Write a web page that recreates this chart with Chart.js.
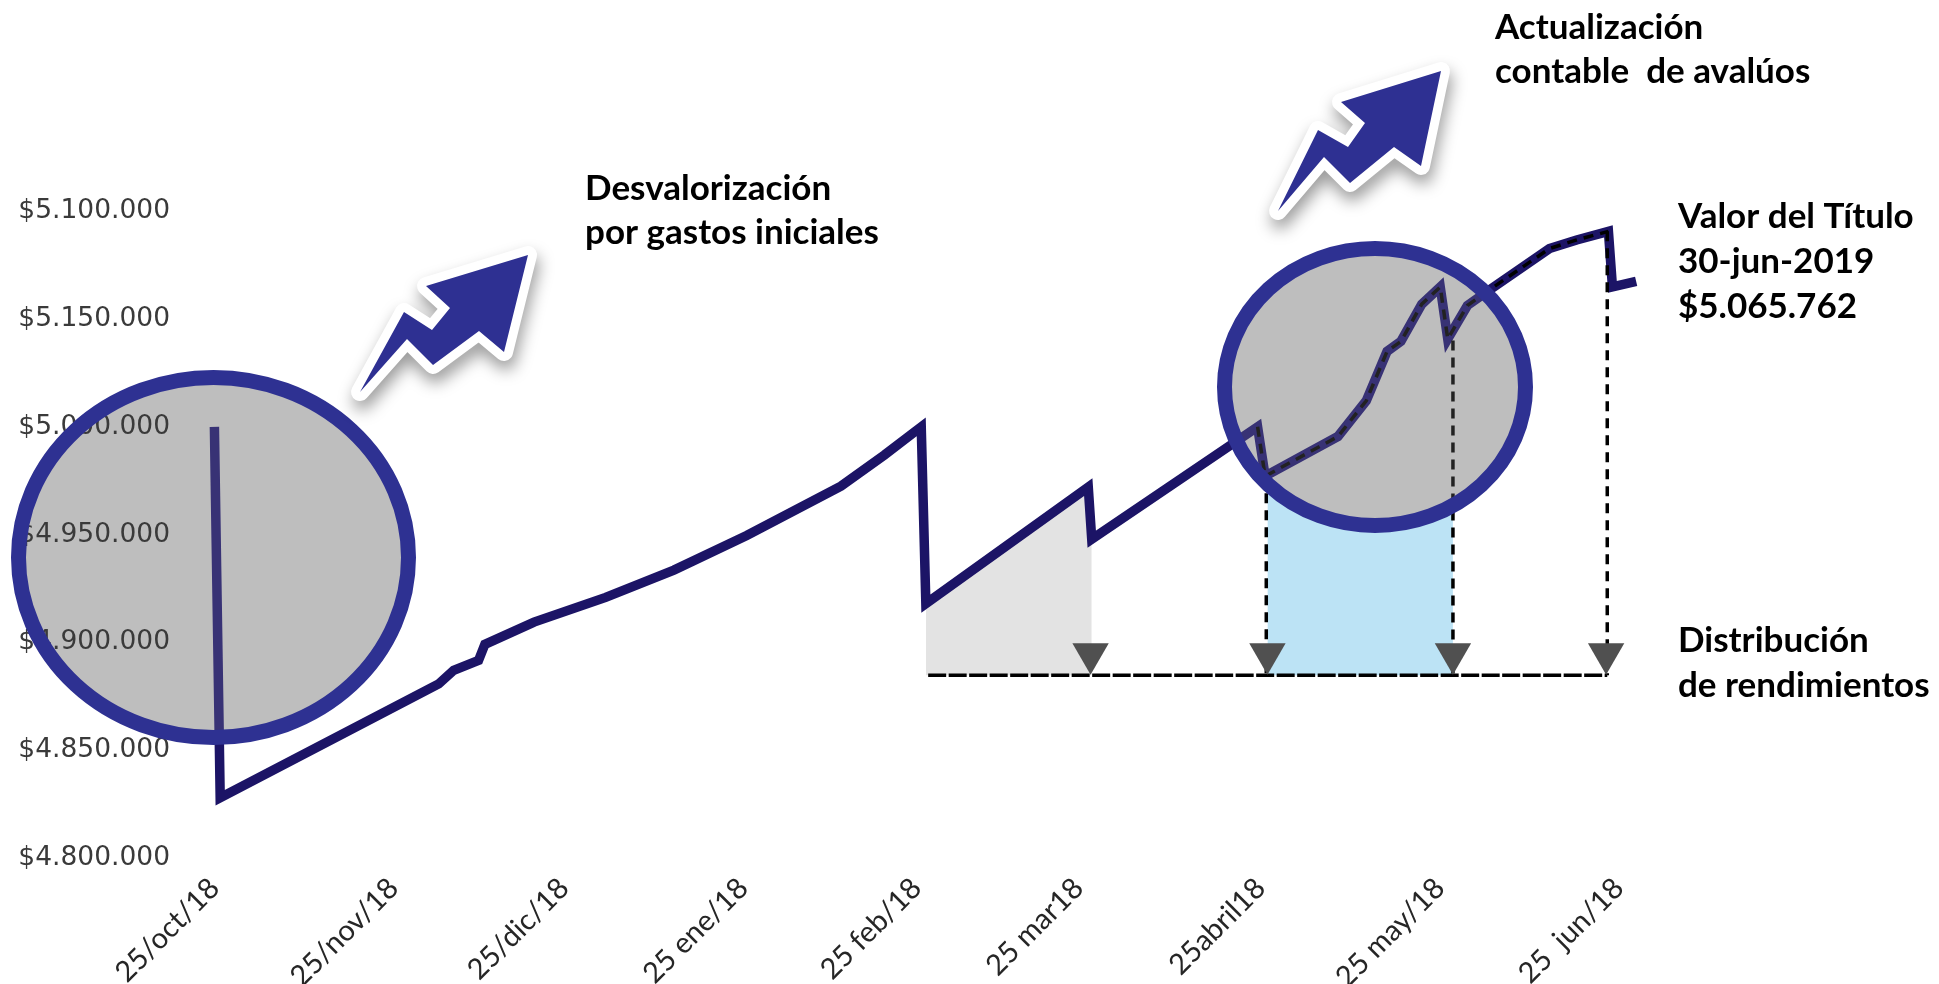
<!DOCTYPE html>
<html><head><meta charset="utf-8">
<style>html,body{margin:0;padding:0;background:#fff}canvas{display:block}</style>
<script src="https://cdn.jsdelivr.net/npm/chart.js@4"></script>
</head><body><canvas id="c" width="1939" height="984"></canvas>
<script>
const tickDays=[0,31,60.5,91.5,121.5,149.5,181,212,243];
const xLabels=['25/oct/18','25/nov/18','25/dic/18','25 ene/18','25 feb/18','25 mar18','25abril18','25 may/18','25  jun/18'];
const yTickValues=[4800000,4850000,4900000,4950000,5000000,5050000,5100000];
const yLabels=['$4.800.000','$4.850.000','$4.900.000','$4.950.000','$5.000.000','$5.150.000','$5.100.000'];
const days=[0,1,38.8,41.4,45.7,46.8,55.3,67.7,79.5,92.1,108.4,115.9,122.3,123.1,151.2,151.8,180.5,181.8,194.4,199.3,202.9,205.3,208.9,212.1,213.4,216.8,220.7,231,235.7,241.2,241.9,246];
const values=[5000000,4828000,4880760,4887070,4891660,4899110,4909440,4920900,4933530,4949600,4972500,4986900,5000000,4918000,4972000,4947900,5000000,4977100,4995500,5012100,5035000,5039650,5056900,5064900,5040800,5056300,5063700,5082700,5086700,5090700,5064900,5067500];
const baseValue=4884800;
const triangleDays=[151.6,182.2,214.3,240.8];
const triangleValue=4894700;
const payDays=[182,214.3,241];
const payTops=[4977100,5040000,5090700];
const annotations=[
 ['Desvalorización',585,189],['por gastos iniciales',585,233],
 ['Actualización',1495,28],['contable  de avalúos',1495,72],
 ['Valor del Título',1678,217],['30-jun-2019',1678,262],['$5.065.762',1678,307],
 ['Distribución',1678,641],['de rendimientos',1678,686]];
const arrowA=[[528,255],[426,286],[450,308],[432,330],[404,312],[360,392],[407,339],[433,365],[479,331],[504,352]];
const arrowB=[[1441,71],[1341,102],[1365,123],[1348,147],[1318,130],[1278,211],[1324,157],[1350,183],[1394,147],[1421,166]];
const ringA={cx:213.5,cy:557.5,rx:195,ry:180};
const ringB={cx:1375,cy:387,rx:150.5,ry:138.5};

const series=days.map((d,i)=>({x:d,y:values[i]}));
const slice=(a,b)=>series.filter(p=>p.x>=a&&p.x<=b);
const greyArea=[...slice(123.1,151.8),{x:151.8,y:baseValue}];
const blueArea=[{x:182.2,y:4977100},...slice(194,213.4),{x:214.3,y:5040000}];
const dashTrace=slice(180.5,241.2);
const vert=(d,t)=>({type:'line',data:[{x:d,y:t},{x:d,y:baseValue}],borderColor:'#000',borderWidth:3.5,borderDash:[10,7],pointRadius:0,order:2,fill:false});

function ell(ctx,r){ctx.beginPath();ctx.ellipse(r.cx,r.cy,r.rx,r.ry,0,0,Math.PI*2);}
const deco={id:'deco',
 afterDatasetDraw(chart,args){
  if(args.index!==1)return;
  const ctx=chart.ctx;ctx.save();ctx.fillStyle='#bfbfbf';
  ell(ctx,ringA);ctx.fill();ell(ctx,ringB);ctx.fill();ctx.restore();
 },
 afterDatasetsDraw(chart){
  const ctx=chart.ctx;ctx.save();ctx.fillStyle='rgba(191,191,191,0.18)';
  ell(ctx,ringA);ctx.fill();ell(ctx,ringB);ctx.fill();ctx.restore();
 },
 afterDraw(chart){
  const ctx=chart.ctx;ctx.save();
  ctx.strokeStyle='#2e3192';ctx.lineWidth=15;
  ell(ctx,ringA);ctx.stroke();ell(ctx,ringB);ctx.stroke();
  [arrowA,arrowB].forEach(p=>{
   ctx.beginPath();p.forEach((q,i)=>i?ctx.lineTo(q[0],q[1]):ctx.moveTo(q[0],q[1]));ctx.closePath();
   ctx.save();ctx.shadowColor='rgba(0,0,0,0.4)';ctx.shadowBlur=16;ctx.shadowOffsetY=9;ctx.shadowOffsetX=2;
   ctx.strokeStyle='#fff';ctx.lineWidth=18;ctx.lineJoin='round';ctx.stroke();ctx.restore();
   ctx.fillStyle='#2e3092';ctx.fill();
  });
  ctx.fillStyle='#000';ctx.font='bold 35px Lato';ctx.textBaseline='middle';ctx.textAlign='left';
  annotations.forEach(a=>ctx.fillText(a[0],a[1],a[2]));
  ctx.restore();
 }};

new Chart(document.getElementById('c'),{
 type:'line',
 data:{datasets:[
  {data:greyArea,borderWidth:0,borderColor:'transparent',backgroundColor:'#e3e3e3',fill:{value:baseValue},pointRadius:0,order:10},
  {data:blueArea,borderWidth:0,borderColor:'transparent',backgroundColor:'#bce3f5',fill:{value:baseValue},pointRadius:0,order:9},
  {data:series,borderColor:'#1c1466',borderWidth:9.5,borderJoinStyle:'miter',borderCapStyle:'butt',pointRadius:0,tension:0,fill:false,order:5},
  {data:dashTrace,borderColor:'#000',borderWidth:3.5,borderDash:[10,7],pointRadius:0,fill:false,order:4},
  {data:[{x:123.5,y:baseValue},{x:241,y:baseValue}],borderColor:'#000',borderWidth:3.5,borderDash:[18,2.5],pointRadius:0,fill:false,order:3},
  ...payDays.map((d,i)=>vert(d,payTops[i])),
  {data:triangleDays.map(d=>({x:d,y:triangleValue})),showLine:false,pointStyle:'triangle',pointRotation:180,pointRadius:21,pointHoverRadius:21,pointBackgroundColor:'#505050',pointBorderWidth:0,order:1}
 ]},
 plugins:[deco],
 options:{responsive:false,animation:false,events:[],
  layout:{padding:0,autoPadding:false},
  plugins:{legend:{display:false},tooltip:{enabled:false},title:{display:false}},
  scales:{
   x:{type:'linear',min:-6.3,max:298.4,grid:{display:false,drawTicks:false},border:{display:false},
    afterBuildTicks(s){s.ticks=tickDays.map(v=>({value:v}));},
    afterFit(s){s.height=126;s.paddingLeft=0;s.paddingRight=0;},
    ticks:{autoSkip:false,maxRotation:45,minRotation:45,padding:13,color:'#262626',font:{family:'Lato',size:29},
     callback(v){return xLabels[tickDays.indexOf(v)];}}},
   y:{type:'linear',min:4800000,max:5198000,grid:{display:false,drawTicks:false},border:{display:false},
    afterBuildTicks(s){s.ticks=yTickValues.map(v=>({value:v}));},
    afterFit(s){s.width=178;s.paddingTop=0;s.paddingBottom=0;},
    ticks:{z:1,padding:8,color:'#3a3a3a',font:{family:'DejaVu Sans',size:26.5},
     callback(v){return yLabels[yTickValues.indexOf(v)];}}}
  }}
});
</script></body></html>
